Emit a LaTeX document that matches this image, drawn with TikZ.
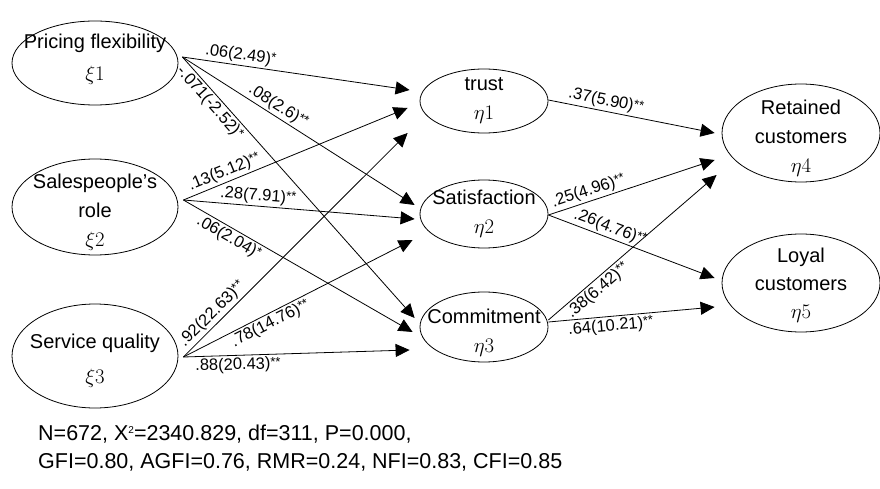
\documentclass[tikz,border=0pt]{standalone}
\usepackage{fontspec}
\setmainfont{Liberation Sans}
\usetikzlibrary{shapes.geometric,arrows.meta,calc}
\newcommand{\sg}[1]{\raisebox{2.5pt}{\fontsize{13}{13}\selectfont #1}}
\begin{document}
\begin{tikzpicture}[x=1pt,y=-1pt,
  lat/.style={ellipse, draw, line width=0.8pt, inner sep=0pt},
  txt/.style={align=center, font=\fontsize{20}{29}\selectfont, inner sep=0pt},
  arr/.style={-{Triangle[length=14pt,width=13pt]}, line width=0.8pt},
  lab/.style={sloped, font=\fontsize{16.5}{18}\selectfont, inner sep=2pt}]
\useasboundingbox (0,0) rectangle (880,489);
% exogenous
\node[lat, minimum width=166pt, minimum height=84pt,
  label={[txt, yshift=4pt]center:{Pricing flexibility\\[3pt]$\xi1$}}] (x1) at (95,63) {};
\node[lat, minimum width=166pt, minimum height=96pt,
  label={[txt, yshift=-5pt]center:{Salespeople's\\role\\$\xi2$}}] (x2) at (95,207) {};
\node[lat, minimum width=166pt, minimum height=104pt,
  label={[txt, yshift=-5pt]center:{Service quality\\[6pt]$\xi3$}}] (x3) at (95,356) {};
% mediators
\node[lat, minimum width=128pt, minimum height=64pt,
  label={[txt]center:{trust\\$\eta1$}}] (t) at (484,101) {};
\node[lat, minimum width=128pt, minimum height=68pt,
  label={[txt]center:{Satisfaction\\$\eta2$}}] (s) at (484,214) {};
\node[lat, minimum width=128pt, minimum height=70pt,
  label={[txt, yshift=-6pt]center:{Commitment\\$\eta3$}}] (c) at (484,327) {};
% outcomes
\node[lat, minimum width=158pt, minimum height=98pt,
  label={[txt, yshift=-5pt, font=\fontsize{20}{29}\selectfont]center:{Retained\\customers\\$\eta4$}}] (r) at (801,133) {};
\node[lat, minimum width=158pt, minimum height=98pt,
  label={[txt, yshift=-2pt, font=\fontsize{20}{28}\selectfont]center:{Loyal\\customers\\$\eta5$}}] (l) at (801,283) {};
% paths from xi1
\draw[arr] ($(x1.east)+(4,-6)$) -- node[lab, above, pos=0.25] {.06(2.49)\sg{*}} ($(t.west)+(-10,-11)$);
\draw[arr] ($(x1.east)+(4,-6)$) -- node[lab, above, pos=0.39] {.08(2.6)\sg{**}} ($(s.west)+(-5,-9)$);
\draw[arr] ($(x1.east)+(4,-6)$) -- node[lab, below, pos=0.15] {-.071(-2.52)\sg{*}} ($(c.west)+(-5,-9)$);
% paths from xi2
\draw[arr] ($(x2.east)+(5,-7)$) -- node[lab, above, pos=0.2] {.13(5.12)\sg{**}} ($(t.west)+(-12,7)$);
\draw[arr] ($(x2.east)+(5,-7)$) -- node[lab, above, pos=0.32] {.28(7.91)\sg{**}} ($(s.west)+(-5,5)$);
\draw[arr] ($(x2.east)+(5,-7)$) -- node[lab, below, pos=0.22] {.06(2.04)\sg{*}} ($(c.west)+(-7,5)$);
% paths from xi3
\draw[arr] ($(x3.east)+(5,1)$) -- node[lab, above, pos=0.16] {.92(22.63)\sg{**}} ($(t.west)+(-12,32)$);
\draw[arr] ($(x3.east)+(5,1)$) -- node[lab, below, pos=0.36] {.78(14.76)\sg{**}} ($(s.west)+(-7,26)$);
\draw[arr] ($(x3.east)+(5,1)$) -- node[lab, below, pos=0.24] {.88(20.43)\sg{**}} ($(c.west)+(-10,23)$);
% paths to outcomes
\draw[arr] ($(t.east)+(0,-1)$) -- node[lab, above, pos=0.335] {.37(5.90)\sg{**}} ($(r.west)+(-7,0)$);
\draw[arr] ($(s.east)+(0,1)$) -- node[lab, above, pos=0.26] {.25(4.96)\sg{**}} ($(r.west)+(-7,27)$);
\draw[arr] ($(s.east)+(0,1)$) -- node[lab, above, pos=0.35] {.26(4.76)\sg{**}} ($(l.west)+(-7,-5)$);
\draw[arr] ($(c.east)+(0,-7)$) -- node[lab, below, pos=0.255] {.38(6.42)\sg{**}} ($(r.west)+(-5,42)$);
\draw[arr] ($(c.east)+(0,-5)$) -- node[lab, below, pos=0.37] {.64(10.21)\sg{**}} ($(l.west)+(-7,24)$);
% fit statistics
\node[anchor=west, align=left, inner sep=0pt, font=\fontsize{21.5}{28}\selectfont] (fit) at (38,448)
  {N=672, X\raisebox{7pt}{\fontsize{10}{10}\selectfont 2}=2340.829, df=311, P=0.000,\\GFI=0.80, AGFI=0.76, RMR=0.24, NFI=0.83, CFI=0.85};
\end{tikzpicture}
\end{document}
